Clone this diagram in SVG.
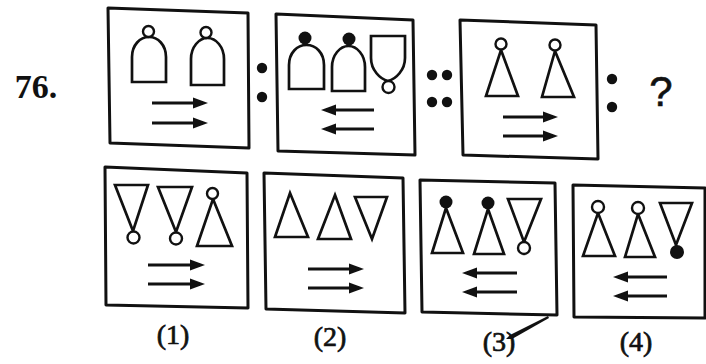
<svg xmlns="http://www.w3.org/2000/svg" width="706" height="364" viewBox="0 0 706 364">
<defs>
<style>
.box{fill:none;stroke:#111;stroke-width:3;stroke-linejoin:round}
.sh{fill:none;stroke:#111;stroke-width:2.7;stroke-linejoin:miter}
.dot{fill:#111}
.hol{fill:#fff;stroke:#111;stroke-width:2.4}
.arr{stroke:#111;stroke-width:2.8;fill:none;marker-end:url(#ah)}
.lbl{font-family:"Liberation Serif",serif;font-size:28px;fill:#111;stroke:#111;stroke-width:0.7;text-anchor:middle}
</style>
<marker id="ah" markerUnits="userSpaceOnUse" markerWidth="16" markerHeight="14" viewBox="0 0 16 14" refX="10" refY="6" orient="auto">
<path d="M0,0.5 L15,6 L0,11.5 Z" fill="#111"/>
</marker>
</defs>
<rect width="706" height="364" fill="#fff"/>
<text x="36" y="98" font-family="Liberation Serif,serif" font-weight="bold" font-size="34" fill="#111" text-anchor="middle">76.</text>

<g id="fig1">
<polygon class="box" points="108,8 248,13 249,148 110,143"/>
<path class="sh" d="M132,82 V57 C132,45 140,37 149,37 C158,37 166,45 166,57 V82 Z"/>
<circle class="hol" cx="148.5" cy="31.5" r="5.5"/>
<path class="sh" d="M191,85 V59 C191,47 199,38 207.5,38 C216,38 224,47 224,59 V85 Z"/>
<circle class="hol" cx="206" cy="32.5" r="5.5"/>
<line class="arr" x1="152" y1="103" x2="203" y2="103"/>
<line class="arr" x1="152" y1="123" x2="203" y2="123"/>
</g>

<g id="sep1">
<circle class="dot" cx="262" cy="68" r="5.2"/>
<circle class="dot" cx="262" cy="97" r="5.2"/>
</g>

<g id="fig2">
<polygon class="box" points="276,14 413,20 415,155 278,151"/>
<path class="sh" d="M289,89 V65 C289,53 297,45 306.5,45 C316,45 324,53 324,65 V89 Z"/>
<circle class="dot" cx="305" cy="38" r="6.5"/>
<path class="sh" d="M332,91 V67 C332,55 340,46 348.5,46 C357,46 365,55 365,67 V91 Z"/>
<circle class="dot" cx="349" cy="39" r="6.5"/>
<path class="sh" d="M371,36 H405 V58 C405,70 396,79 388,81 C380,79 371,70 371,58 Z"/>
<circle class="hol" cx="388.5" cy="87" r="6"/>
<line class="arr" x1="374" y1="110" x2="326" y2="110"/>
<line class="arr" x1="374" y1="129" x2="326" y2="129"/>
</g>

<g id="sep2">
<circle class="dot" cx="432" cy="75" r="5.2"/>
<circle class="dot" cx="447" cy="75" r="5.2"/>
<circle class="dot" cx="432" cy="102" r="5.2"/>
<circle class="dot" cx="447" cy="102" r="5.2"/>
</g>

<g id="fig3">
<polygon class="box" points="460,20 596,25 598,159 463,155"/>
<polygon class="sh" points="501,50 518,96 486,96"/>
<circle class="hol" cx="501" cy="44" r="5.5"/>
<polygon class="sh" points="555,51 574,97 542,97"/>
<circle class="hol" cx="555" cy="45" r="5.5"/>
<line class="arr" x1="503" y1="117" x2="553" y2="117"/>
<line class="arr" x1="503" y1="136" x2="553" y2="136"/>
</g>

<g id="sep3">
<circle class="dot" cx="612" cy="79" r="5.2"/>
<circle class="dot" cx="612" cy="107" r="5.2"/>
</g>
<text x="661" y="106" font-family="Liberation Sans,sans-serif" font-size="42" fill="#111" stroke="#111" stroke-width="0.6" text-anchor="middle">?</text>

<g id="opt1">
<polygon class="box" points="105,167 247,173 248,308 106,305"/>
<polygon class="sh" points="115,185 148,185 133,231"/>
<circle class="hol" cx="133.5" cy="237.5" r="6"/>
<polygon class="sh" points="158,187 192,187 176,232"/>
<circle class="hol" cx="176" cy="238.5" r="6"/>
<polygon class="sh" points="213,199 232,246 197,246"/>
<circle class="hol" cx="212.5" cy="193.5" r="5.5"/>
<line class="arr" x1="148" y1="265" x2="200" y2="265"/>
<line class="arr" x1="148" y1="284" x2="200" y2="284"/>
<text class="lbl" x="173" y="344">(1)</text>
</g>

<g id="opt2">
<polygon class="box" points="264,173 403,178 405,313 266,309"/>
<polygon class="sh" points="290,193 308,237 275,237"/>
<polygon class="sh" points="335,195 351,239 318,239"/>
<polygon class="sh" points="355,197 387,197 372,239"/>
<line class="arr" x1="308" y1="269" x2="359" y2="269"/>
<line class="arr" x1="308" y1="288" x2="359" y2="288"/>
<text class="lbl" x="330" y="346">(2)</text>
</g>

<g id="opt3">
<polygon class="box" points="420,180 555,183 557,315 422,312"/>
<polygon class="sh" points="446,208 463,253 432,253"/>
<circle class="dot" cx="446" cy="202" r="6.5"/>
<polygon class="sh" points="488,209 504,254 474,254"/>
<circle class="dot" cx="488" cy="203" r="6.5"/>
<polygon class="sh" points="508,199 541,199 524,242"/>
<circle class="hol" cx="524" cy="248" r="6"/>
<line class="arr" x1="517" y1="273" x2="467" y2="273"/>
<line class="arr" x1="517" y1="292" x2="467" y2="292"/>
<text class="lbl" x="499" y="351">(3)</text>
<path d="M506,339 L510,335 L548,316 L549,318 L512,339 Z" fill="#111"/>
</g>

<g id="opt4">
<polygon class="box" points="573,185 705,188 705,318 574,317"/>
<polygon class="sh" points="598,213 615,256 583,256"/>
<circle class="hol" cx="598" cy="207" r="6"/>
<polygon class="sh" points="638,214 655,257 625,257"/>
<circle class="hol" cx="638" cy="208" r="6"/>
<polygon class="sh" points="660,203 692,203 676,245"/>
<circle class="dot" cx="677" cy="252" r="7"/>
<line class="arr" x1="667" y1="277" x2="618" y2="277"/>
<line class="arr" x1="667" y1="296" x2="618" y2="296"/>
<text class="lbl" x="636" y="351">(4)</text>
</g>
</svg>
